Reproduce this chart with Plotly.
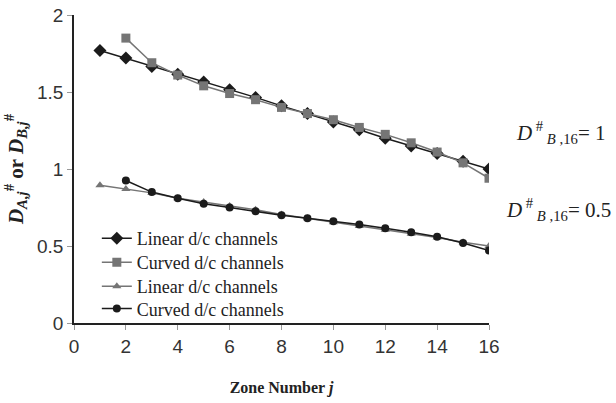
import plotly.graph_objects as go

# Zone numbers
zones = list(range(1, 17))
zones_curved = list(range(2, 17))

# D#_B,16 = 1
linear_d1 = [1.77, 1.72, 1.665, 1.615, 1.565, 1.515, 1.465, 1.41, 1.36, 1.305,
             1.255, 1.20, 1.15, 1.10, 1.05, 1.00]
curved_d1 = [1.85, 1.69, 1.61, 1.54, 1.49, 1.45, 1.40, 1.36, 1.32, 1.27,
             1.225, 1.17, 1.11, 1.04, 0.94]

# D#_B,16 = 0.5
linear_d05 = [0.895, 0.87, 0.845, 0.81, 0.785, 0.76, 0.735, 0.705, 0.68, 0.655,
              0.63, 0.605, 0.58, 0.555, 0.525, 0.50]
curved_d05 = [0.925, 0.85, 0.81, 0.775, 0.75, 0.725, 0.70, 0.68, 0.66, 0.64,
              0.615, 0.59, 0.56, 0.52, 0.47]

x_ticks = [0, 2, 4, 6, 8, 10, 12, 14, 16]
y_ticks = [0, 0.5, 1, 1.5, 2]
y_tick_text = ["0", "0.5", "1", "1.5", "2"]

BLACK = "#1b1b1b"
GRAY = "#757575"
SERIF = "Liberation Serif, Times New Roman, serif"
SANS = "Liberation Sans, Arial, sans-serif"

series = [
    dict(x=zones, y=linear_d1, name="Linear d/c channels", color=BLACK,
         symbol="diamond", size=10),
    dict(x=zones_curved, y=curved_d1, name="Curved d/c channels", color=GRAY,
         symbol="square", size=9),
    dict(x=zones, y=linear_d05, name="Linear d/c channels", color=GRAY,
         symbol="triangle-up", size=8),
    dict(x=zones_curved, y=curved_d05, name="Curved d/c channels", color=BLACK,
         symbol="circle", size=8),
]

# each entry gets its own legend box so the rows can be packed tightly
legend_ids = ["legend", "legend2", "legend3", "legend4"]
legend_rows = [0.274, 0.196, 0.118, 0.046]

fig = go.Figure()
for s, lid in zip(series, legend_ids):
    fig.add_trace(go.Scatter(x=s["x"], y=s["y"], mode="lines+markers",
                             name=s["name"], legend=lid,
                             line=dict(color=s["color"], width=1.5),
                             marker=dict(symbol=s["symbol"], size=s["size"],
                                         color=s["color"])))

legend_style = dict(xanchor="left", yanchor="middle",
                    font=dict(family=SERIF, size=18, color="#222"),
                    bgcolor="rgba(0,0,0,0)", itemwidth=30,
                    borderwidth=0)
layout_legends = {lid: dict(x=0.055, y=row, **legend_style)
                  for lid, row in zip(legend_ids, legend_rows)}

fig.update_layout(
    width=616, height=403,
    margin=dict(l=74, r=127, t=15, b=80),
    paper_bgcolor="white", plot_bgcolor="white",
    showlegend=True,
    xaxis=dict(range=[0, 16], tickvals=x_ticks, showgrid=False, zeroline=False,
               showline=True, linecolor="#222", linewidth=1.5,
               ticks="outside", ticklen=5, tickcolor="#999",
               automargin=False,
               tickfont=dict(family=SANS, size=19, color="#333"),
               title=dict(text="<b>Zone Number <i>j</i></b>",
                          font=dict(family=SERIF, size=16, color="#222"),
                          standoff=26)),
    yaxis=dict(range=[0, 2], tickvals=y_ticks, ticktext=y_tick_text,
               showgrid=False, zeroline=False,
               showline=True, linecolor="#222", linewidth=1.5,
               ticks="outside", ticklen=5, tickcolor="#999",
               automargin=False,
               tickfont=dict(family=SANS, size=19, color="#333"),
               title=dict(text="<b><i>D</i><sub><i>A,j</i></sub><sup>#</sup> or "
                               "<i>D</i><sub><i>B,j</i></sub><sup>#</sup></b>",
                          font=dict(family=SERIF, size=21, color="#222"),
                          standoff=8)),
    **layout_legends,
)

fig.add_annotation(x=1.06, y=1.24, xref="paper", yref="y", xanchor="left",
                   showarrow=False,
                   text="<i>D</i><sup> #</sup><sub> <i>B</i> ,16</sub>= 1",
                   font=dict(family=SERIF, size=21, color="#222"))
fig.add_annotation(x=1.036, y=0.735, xref="paper", yref="y", xanchor="left",
                   showarrow=False,
                   text="<i>D</i><sup> #</sup><sub> <i>B</i> ,16</sub>= 0.5",
                   font=dict(family=SERIF, size=21, color="#222"))

fig.write_html("out.html")
